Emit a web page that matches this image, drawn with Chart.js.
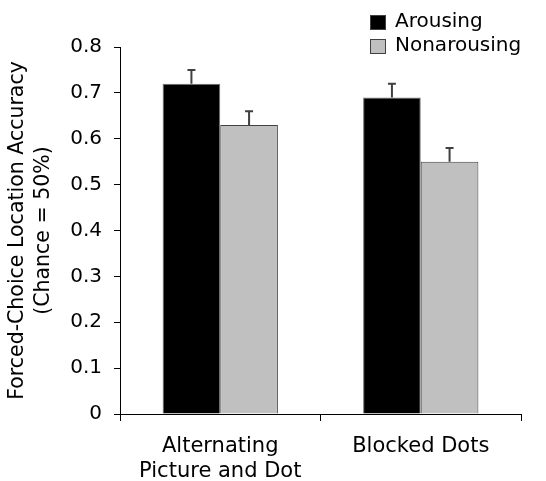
<!DOCTYPE html>
<html>
<head>
<meta charset="utf-8">
<script src="https://cdn.jsdelivr.net/npm/chart.js@4"></script>
<style>
  html, body { margin: 0; padding: 0; background: #fff; }
  #wrap { width: 546px; height: 481px; }
</style>
</head>
<body>
<div id="wrap"><canvas id="chart" width="546" height="481"></canvas></div>
<script>
const categories = [['Alternating', 'Picture and Dot'], 'Blocked Dots'];
const seriesNames = ['Arousing', 'Nonarousing'];
const arousing = [0.72, 0.69];
const nonarousing = [0.63, 0.55];
const arousingErr = [0.03, 0.03];
const nonarousingErr = [0.03, 0.03];
const yTicks = [0, 0.1, 0.2, 0.3, 0.4, 0.5, 0.6, 0.7, 0.8];

const FONT = '"DejaVu Sans", Verdana, sans-serif';
const errors = [arousingErr, nonarousingErr];

// upper error bars only
const errorBars = {
  id: 'errorBars',
  afterDatasetsDraw(chart) {
    const ctx = chart.ctx;
    const y = chart.scales.y;
    ctx.save();
    ctx.strokeStyle = '#404040';
    ctx.lineWidth = 2;
    chart.data.datasets.forEach((ds, i) => {
      chart.getDatasetMeta(i).data.forEach((bar, j) => {
        const top = y.getPixelForValue(ds.data[j] + errors[i][j]);
        ctx.beginPath();
        ctx.moveTo(bar.x, bar.y);
        ctx.lineTo(bar.x, top);
        ctx.moveTo(bar.x - 4, top);
        ctx.lineTo(bar.x + 4, top);
        ctx.stroke();
      });
    });
    ctx.restore();
  }
};

// legend drawn top-right, stacked
const sideLegend = {
  id: 'sideLegend',
  afterDraw(chart) {
    const ctx = chart.ctx;
    ctx.save();
    ctx.font = '20px ' + FONT;
    ctx.textBaseline = 'middle';
    chart.data.datasets.forEach((ds, i) => {
      const cy = 22 + i * 24;
      ctx.fillStyle = ds.backgroundColor;
      ctx.fillRect(370, cy - 7, 16, 15);
      ctx.strokeStyle = '#404040';
      ctx.lineWidth = 1;
      ctx.strokeRect(370.5, cy - 6.5, 15, 14);
      ctx.fillStyle = '#000';
      ctx.fillText(ds.label, 395, cy);
    });
    ctx.restore();
  }
};

new Chart(document.getElementById('chart'), {
  type: 'bar',
  data: {
    labels: categories,
    datasets: [
      { label: seriesNames[0], data: arousing, backgroundColor: '#000000', borderColor: '#707070', borderWidth: 1, barPercentage: 1, categoryPercentage: 0.575 },
      { label: seriesNames[1], data: nonarousing, backgroundColor: '#c0c0c0', borderColor: '#404040', borderWidth: 1, barPercentage: 1, categoryPercentage: 0.575 }
    ]
  },
  options: {
    responsive: false,
    animation: false,
    devicePixelRatio: 1,
    layout: { padding: { top: 47, right: 25, left: 0, bottom: 0 } },
    plugins: {
      legend: { display: false },
      tooltip: { enabled: false }
    },
    scales: {
      x: {
        offset: true,
        grid: { offset: true, drawOnChartArea: false, color: '#000', tickLength: 7, tickWidth: 1 },
        border: { color: '#000', width: 1 },
        ticks: { color: '#000', font: { family: FONT, size: 21, lineHeight: 1.2 }, padding: 13, maxRotation: 0 },
        afterFit(scale) { scale.height = 67; }
      },
      y: {
        min: 0,
        max: 0.8,
        afterBuildTicks(scale) { scale.ticks = yTicks.map(v => ({ value: v })); },
        grid: { drawOnChartArea: false, color: '#000', tickLength: 6 },
        border: { color: '#000', width: 1 },
        ticks: { color: '#000', font: { family: FONT, size: 20 }, padding: 12,
          callback: v => v === 0 ? '0' : v.toFixed(1) },
        title: {
          display: true,
          text: ['Forced-Choice Location Accuracy', '(Chance = 50%)'],
          color: '#000',
          font: { family: FONT, size: 20.5, lineHeight: 1.27 },
          padding: { top: 5, bottom: 0 }
        },
        afterFit(scale) { scale.width = 120; }
      }
    }
  },
  plugins: [errorBars, sideLegend]
});
</script>
</body>
</html>
